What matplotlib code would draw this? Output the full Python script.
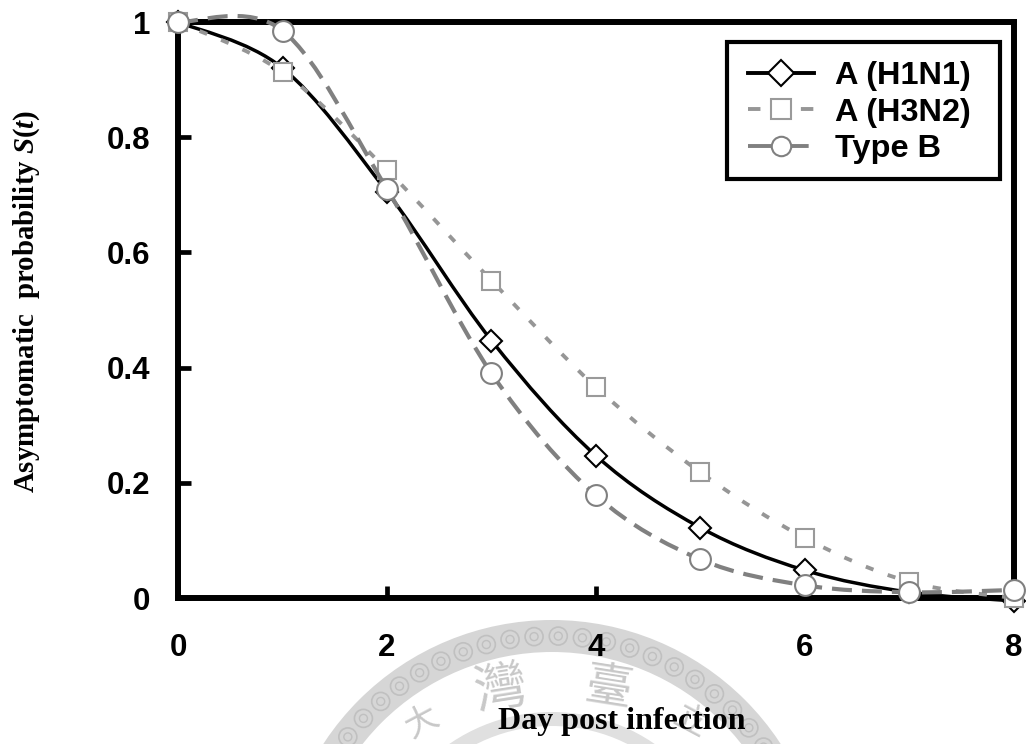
import numpy as np
import matplotlib
matplotlib.use("Agg")
import matplotlib.pyplot as plt
from matplotlib.path import Path
from matplotlib.patches import PathPatch, Wedge, Circle, Rectangle
from matplotlib.lines import Line2D

plt.rcParams['font.family'] = ['Liberation Sans', 'DejaVu Sans']
plt.rcParams['mathtext.fontset'] = 'custom'
plt.rcParams['mathtext.rm'] = 'Liberation Serif:bold'
plt.rcParams['mathtext.bfit'] = 'Liberation Serif:italic:bold'

days = [0, 1, 2, 3, 4, 5, 6, 7, 8]
h1n1 = [1.0, 0.92, 0.705, 0.447, 0.247, 0.122, 0.048, 0.01, -0.005]
h3n2 = [1.0, 0.913, 0.743, 0.551, 0.366, 0.218, 0.104, 0.028, 0.0]
type_b = [1.0, 0.985, 0.71, 0.39, 0.178, 0.067, 0.022, 0.01, 0.014]
xticks = [0, 2, 4, 6, 8]
yticks = [0, 0.2, 0.4, 0.6, 0.8, 1]
ytick_labels = ['0', '0.2', '0.4', '0.6', '0.8', '1']
series_names = ['A (H1N1)', 'A (H3N2)', 'Type B']
seal_chars = ['大', '灣', '臺', '立']

W, H = 1026, 744


def smooth_path(x, y):
    # excel style smoothed line, bezier through every data point
    pts = np.column_stack([x, y]).astype(float)
    verts = [pts[0]]
    codes = [Path.MOVETO]
    for i in range(len(pts) - 1):
        p0 = pts[max(i - 1, 0)]
        p1 = pts[i]
        p2 = pts[i + 1]
        p3 = pts[min(i + 2, len(pts) - 1)]
        verts += [p1 + (p2 - p0) / 6, p2 - (p3 - p1) / 6, p2]
        codes += [Path.CURVE4] * 3
    return Path(verts, codes)


fig = plt.figure(figsize=(W / 100, H / 100), dpi=100)

# seal watermark behind everything, in pixel coordinates
bg = fig.add_axes([0, 0, 1, 1], zorder=0)
bg.set_xlim(0, W)
bg.set_ylim(H, 0)
bg.axis('off')
seal_x, seal_y = 552, 893
bg.add_patch(Wedge((seal_x, seal_y), 273, 180, 360, width=32, fc='#d6d6d6', ec='none'))
for ang in np.arange(185, 360, 5.4):
    px = seal_x + 257 * np.cos(np.radians(ang))
    py = seal_y + 257 * np.sin(np.radians(ang))
    bg.add_patch(Circle((px, py), 9, fc='none', ec='#c0c0c0', lw=1.2))
    bg.add_patch(Circle((px, py), 4, fc='none', ec='#c0c0c0', lw=1.0))
bg.add_patch(Wedge((seal_x, seal_y), 181, 180, 360, width=14, fc='#e0e0e0', ec='none'))
for ch, cx, cy, size, rot in zip(seal_chars, [422, 500, 608, 690], [722, 690, 689, 722],
                                 [24, 38, 34, 24], [28, 9, -9, -28]):
    bg.text(cx, cy, ch, fontsize=size, family=['Noto Sans CJK TC'], color='#c8c8c8',
            ha='center', va='center', rotation=rot)

ax = fig.add_axes([178 / W, 1 - 598 / H, (1014 - 178) / W, (598 - 22) / H], zorder=1)
ax.patch.set_alpha(0)
ax.set_xlim(0, 8)
ax.set_ylim(0, 1)

ax.add_patch(PathPatch(smooth_path(days, h1n1), fc='none', ec='black', lw=2.5, clip_on=False, zorder=3))
ax.plot(days, h1n1, ls='none', marker='D', ms=11.5, mfc='white', mec='black', mew=1.5, clip_on=False, zorder=3)

ax.add_patch(PathPatch(smooth_path(days, h3n2), fc='none', ec='#969696', lw=2.8, ls=(0, (2.1, 3.9)),
                       clip_on=False, zorder=4))
ax.plot(days, h3n2, ls='none', marker='s', ms=12.4, mfc='white', mec='#9a9a9a', mew=1.5, clip_on=False, zorder=4)

ax.add_patch(PathPatch(smooth_path(days, type_b), fc='none', ec='#808080', lw=3.0, ls=(0, (4.8, 2.4)),
                       clip_on=False, zorder=5))
ax.plot(days, type_b, ls='none', marker='o', ms=15, mfc='white', mec='#808080', mew=1.5, clip_on=False, zorder=5)

for s in ax.spines.values():
    s.set_linewidth(4.3)
    s.set_zorder(2)
ax.set_xticks(xticks)
ax.set_yticks(yticks)
ax.set_yticklabels(ytick_labels)
ax.tick_params(axis='both', direction='in', length=9, width=3.4, labelsize=22.5, zorder=2)
ax.tick_params(axis='x', pad=25)
ax.tick_params(axis='y', pad=20)
for lab in ax.get_xticklabels() + ax.get_yticklabels():
    lab.set_fontweight('bold')

# legend box drawn on its own so it can be wider than the entries
ax.add_patch(Rectangle(((727 - 178) / 836, (598 - 179) / 576), (1000 - 727) / 836, (179 - 42) / 576,
                       transform=ax.transAxes, fc='white', ec='black', lw=3, zorder=6, clip_on=False))
handles = [
    Line2D([], [], color='black', lw=2.8, marker='D', ms=13, mfc='white', mec='black', mew=1.5),
    Line2D([], [], color='#969696', lw=2.8, ls=(0, (3.2, 3.6)), marker='s', ms=14, mfc='white', mec='#9a9a9a', mew=1.5),
    Line2D([], [], color='#808080', lw=2.8, ls=(0, (7, 1.6)), marker='o', ms=14, mfc='white', mec='#808080', mew=1.5),
]
leg = ax.legend(handles, series_names, loc='upper left',
                bbox_to_anchor=((748 - 178) / 836, (598 - 61) / 576),
                prop={'family': 'Liberation Sans', 'weight': 'bold', 'size': 23.4},
                frameon=False, borderpad=0, labelspacing=0.2, handlelength=2.04,
                handletextpad=0.64, borderaxespad=0)
leg.set_zorder(7)

fig.text(622 / W, 1 - 721 / H, 'Day post infection', fontsize=23, fontweight='bold',
         family='Liberation Serif', ha='center', va='center', zorder=3)
fig.text(27 / W, 1 - 301 / H, r'Asymptomatic  probability $\mathbfit{S}(\mathbfit{t})$', fontsize=20.8,
         fontweight='bold', family='Liberation Serif', rotation=90, ha='center', va='center', zorder=3)

plt.savefig('out.png', dpi=100)
